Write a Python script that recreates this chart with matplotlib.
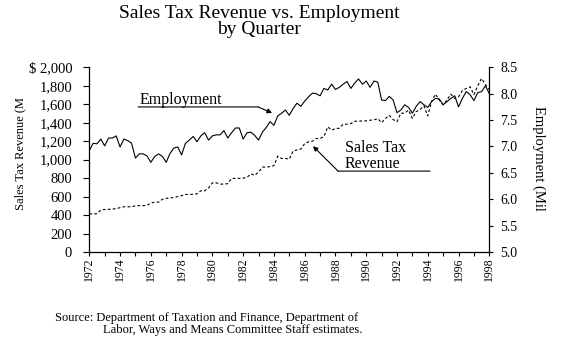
import matplotlib
matplotlib.use("Agg")
import matplotlib.pyplot as plt
import numpy as np

plt.rcParams['font.family'] = ['Liberation Serif', 'DejaVu Serif']

# quarterly values, 1972 Q1 .. 1998 Q1
first_year = 1972
employment = [
    6.92, 7.06, 7.05, 7.14,
    7.01, 7.16, 7.16, 7.20,
    6.99, 7.14, 7.11, 7.06,
    6.78, 6.86, 6.86, 6.82,
    6.70, 6.81, 6.86, 6.81,
    6.70, 6.87, 6.97, 6.99,
    6.84, 7.06, 7.12, 7.19,
    7.09, 7.20, 7.26, 7.12,
    7.20, 7.22, 7.22, 7.30,
    7.16, 7.26, 7.35, 7.35,
    7.14, 7.26, 7.27, 7.21,
    7.12, 7.27, 7.36, 7.47,
    7.40, 7.58, 7.63, 7.69,
    7.59, 7.72, 7.82, 7.76,
    7.86, 7.94, 8.01, 8.00,
    7.96, 8.10, 8.07, 8.18,
    8.08, 8.12, 8.18, 8.23,
    8.10, 8.20, 8.28, 8.18,
    8.24, 8.12, 8.24, 8.22,
    7.88, 7.87, 7.95, 7.88,
    7.64, 7.69, 7.79, 7.74,
    7.63, 7.76, 7.85, 7.79,
    7.74, 7.85, 7.91, 7.90,
    7.79, 7.85, 7.91, 7.96,
    7.75, 7.91, 8.04, 7.98,
    7.87, 8.02, 8.04, 8.15,
    8.00,
]
sales_tax = [
    412, 412, 415, 455,
    460, 462, 465, 470,
    480, 490, 490, 490,
    500, 502, 502, 505,
    530, 540, 540, 570,
    580, 585, 590, 600,
    610, 623, 623, 625,
    630, 663, 663, 692,
    749, 749, 735, 735,
    740, 797, 797, 797,
    800, 808, 846, 830,
    865, 919, 919, 925,
    935, 1038, 1013, 1013,
    1005, 1095, 1105, 1115,
    1174, 1193, 1200, 1229,
    1229, 1250, 1355, 1319,
    1337, 1340, 1384, 1384,
    1390, 1416, 1416, 1420,
    1420, 1427, 1430, 1445,
    1400, 1446, 1480, 1434,
    1411, 1503, 1503, 1537,
    1446, 1520, 1543, 1583,
    1474, 1629, 1709, 1646,
    1594, 1646, 1709, 1663,
    1680, 1749, 1771, 1789,
    1703, 1800, 1880, 1811,
    1760,
]
year_labels = [str(y) for y in range(1972, 1999, 2)]
rev_ticks = [0, 200, 400, 600, 800, 1000, 1200, 1400, 1600, 1800, 2000]
emp_ticks = [5.0, 5.5, 6.0, 6.5, 7.0, 7.5, 8.0, 8.5]

quarters = first_year + np.arange(len(sales_tax)) / 4.0

fig = plt.figure(figsize=(5.65, 3.38), dpi=100)
ax = fig.add_axes([89.3 / 565, 86 / 338, 400 / 565, 184.7 / 338])
ax2 = ax.twinx()

ax.plot(quarters, sales_tax, color='black', lw=0.8, linestyle=(0, (2.5, 2)))
ax2.plot(quarters, employment, color='black', lw=0.8)

ax.set_xlim(1972, 1998)
ax.set_ylim(0, 2000)
ax2.set_ylim(5.0, 8.5)

ax.set_yticks(rev_ticks)
ax.set_yticklabels([('$ ' if v == 2000 else '') + f'{v:,}' for v in rev_ticks])
ax2.set_yticks(emp_ticks)
ax2.set_yticklabels([f'{v:.1f}' for v in emp_ticks])

ax.set_xticks([int(y) for y in year_labels])
ax.set_xticklabels(year_labels, rotation=90)
ax.set_xticks(range(1973, 1998, 2), minor=True)

for a in (ax, ax2):
    a.spines['top'].set_visible(False)
    for s in a.spines.values():
        s.set_linewidth(0.9)
ax.spines['right'].set_visible(False)
ax2.spines['left'].set_visible(False)
ax2.spines['bottom'].set_visible(False)

ax.tick_params(axis='y', direction='out', length=4.3, width=0.8, pad=8, labelsize=10.5)
ax2.tick_params(axis='y', direction='out', length=3, width=0.8, pad=5, labelsize=10)
ax.tick_params(axis='x', which='both', direction='out', length=3, width=0.8, pad=1, labelsize=8.5)

# annotations
ax2.text(1975.3, 7.81, 'Employment', fontsize=11.5, ha='left', va='baseline')
ax2.annotate('', xy=(1982.97, 7.749), xytext=(1975.17, 7.749),
             arrowprops=dict(arrowstyle='-', color='black', lw=0.8,
                             shrinkA=0, shrinkB=0))
ax2.annotate('', xy=(1983.88, 7.635), xytext=(1982.97, 7.749),
             arrowprops=dict(arrowstyle='-|>', color='black', lw=0.8,
                             mutation_scale=7, shrinkA=0, shrinkB=0))

ax.text(1988.62, 1215, 'Sales Tax\nRevenue', fontsize=11.5, ha='left', va='top',
        linespacing=1.0)
ax.annotate('', xy=(1994.15, 876), xytext=(1988.17, 876),
            arrowprops=dict(arrowstyle='-', color='black', lw=0.8,
                            shrinkA=0, shrinkB=0))
ax.annotate('', xy=(1986.54, 1146), xytext=(1988.17, 876),
            arrowprops=dict(arrowstyle='-|>', color='black', lw=0.8,
                            mutation_scale=7, shrinkA=0, shrinkB=0))

# titles and axis labels
fig.text(259 / 565, 1 - 14 / 338, 'Sales Tax Revenue vs. Employment',
         fontsize=14, ha='center', va='center')
fig.text(259 / 565, 1 - 29.5 / 338, 'by Quarter',
         fontsize=14, ha='center', va='center')
fig.text(20 / 565, 1 - 154 / 338, 'Sales Tax Revenue (M', fontsize=9,
         rotation=90, ha='center', va='center')
fig.text(539 / 565, 1 - 158 / 338, 'Employment (Mil', fontsize=10.5,
         rotation=270, ha='center', va='center')

fig.text(55 / 565, 1 - 318 / 338,
         'Source: Department of Taxation and Finance, Department of',
         fontsize=9, ha='left', va='center')
fig.text(103 / 565, 1 - 330 / 338,
         'Labor, Ways and Means Committee Staff estimates.',
         fontsize=9, ha='left', va='center')

fig.savefig('out.png', dpi=100)
